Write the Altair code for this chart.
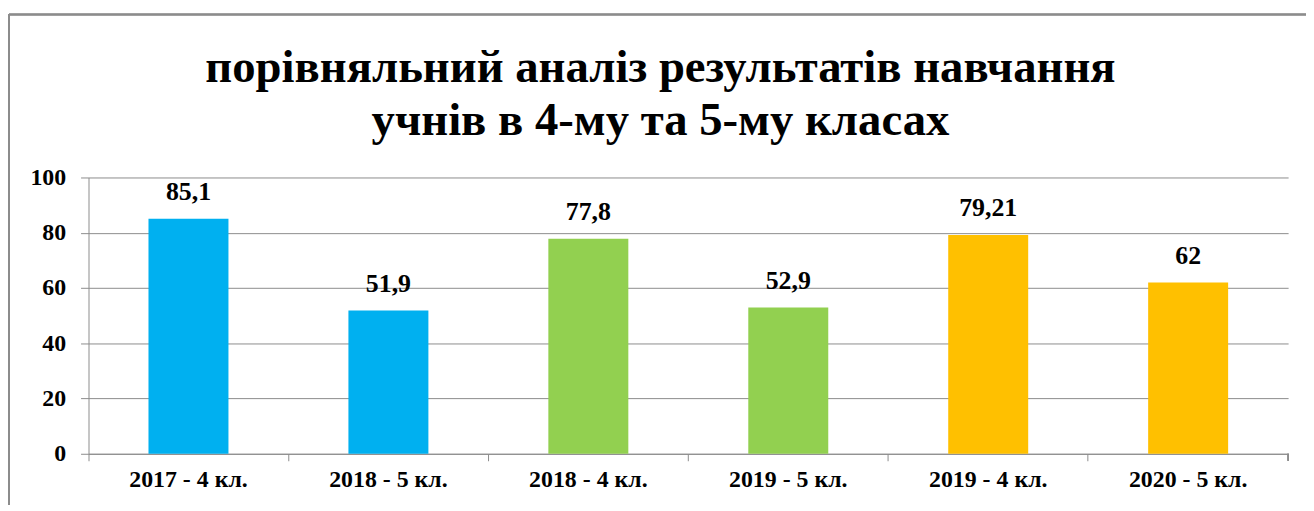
import altair as alt
import pandas as pd

categories = ["2017 - 4 кл.", "2018 - 5 кл.", "2018 - 4 кл.", "2019 - 5 кл.", "2019 - 4 кл.", "2020 - 5 кл."]
values = [85.1, 51.9, 77.8, 52.9, 79.21, 62]
labels = ["85,1", "51,9", "77,8", "52,9", "79,21", "62"]
groups = ["a", "a", "b", "b", "c", "c"]
colors = ["#00B0F0", "#92D050", "#FFC000"]

df = pd.DataFrame({"cat": categories, "val": values, "lab": labels, "grp": groups})

W, H = 1207, 278
FONT = "Liberation Serif"

x = alt.X("cat:N", sort=categories, title=None,
          scale=alt.Scale(paddingInner=0, paddingOuter=0),
          axis=alt.Axis(labelAngle=0, labelFont=FONT, labelFontSize=24, labelFontWeight="bold",
                        labelColor="black", bandPosition=0, ticks=True, tickSize=7,
                        tickColor="#8c8c8c", domainColor="#8c8c8c", labelPadding=7,
                        grid=False))
y = alt.Y("val:Q", title=None,
          scale=alt.Scale(domain=[0, 100], nice=False),
          axis=alt.Axis(values=[0, 20, 40, 60, 80, 100], labelFont=FONT, labelFontSize=24,
                        labelFontWeight="bold", labelColor="black", tickSize=8,
                        tickColor="#8c8c8c", domainColor="#8c8c8c", gridColor="#8c8c8c",
                        labelPadding=15))

bars = alt.Chart(df).mark_bar(width=alt.RelativeBandSize(0.4)).encode(
    x=x, y=y,
    color=alt.Color("grp:N", scale=alt.Scale(domain=["a", "b", "c"], range=colors), legend=None),
)
text = alt.Chart(df).mark_text(font=FONT, fontSize=26, fontWeight="bold", baseline="alphabetic",
                               dy=-19, color="black").encode(
    x=alt.X("cat:N", sort=categories), y="val:Q", text="lab:N")

end_tick = alt.Chart(df).mark_rule(color="#8c8c8c").encode(
    x=alt.value(W), y=alt.value(H), y2=alt.value(H + 7))
frame_v = alt.Chart(df).mark_rule(color="#8c8c8c", strokeWidth=1.5).encode(
    x=alt.value(-80), y=alt.value(-164), y2=alt.value(340))
frame_h = alt.Chart(df).mark_rule(color="#8c8c8c", strokeWidth=1.5).encode(
    x=alt.value(-80), x2=alt.value(1240), y=alt.value(-164))

chart = alt.layer(frame_v, frame_h, bars, text, end_tick).properties(
    width=W, height=H,
    title=alt.TitleParams(
        ["порівняльний аналіз результатів навчання", "учнів в 4-му та 5-му класах"],
        font=FONT, fontSize=47, fontWeight="bold", color="black", frame="group",
        anchor="middle", lineHeight=53, baseline="alphabetic", offset=-169, dx=-28),
    padding={"left": 81, "top": 169, "right": 18, "bottom": 50},
    autosize=alt.AutoSizeParams(type="none"),
).configure_view(stroke=None).configure_axisY(domain=True)

chart.save("out.html", embed_options={"renderer": "svg", "actions": False})
